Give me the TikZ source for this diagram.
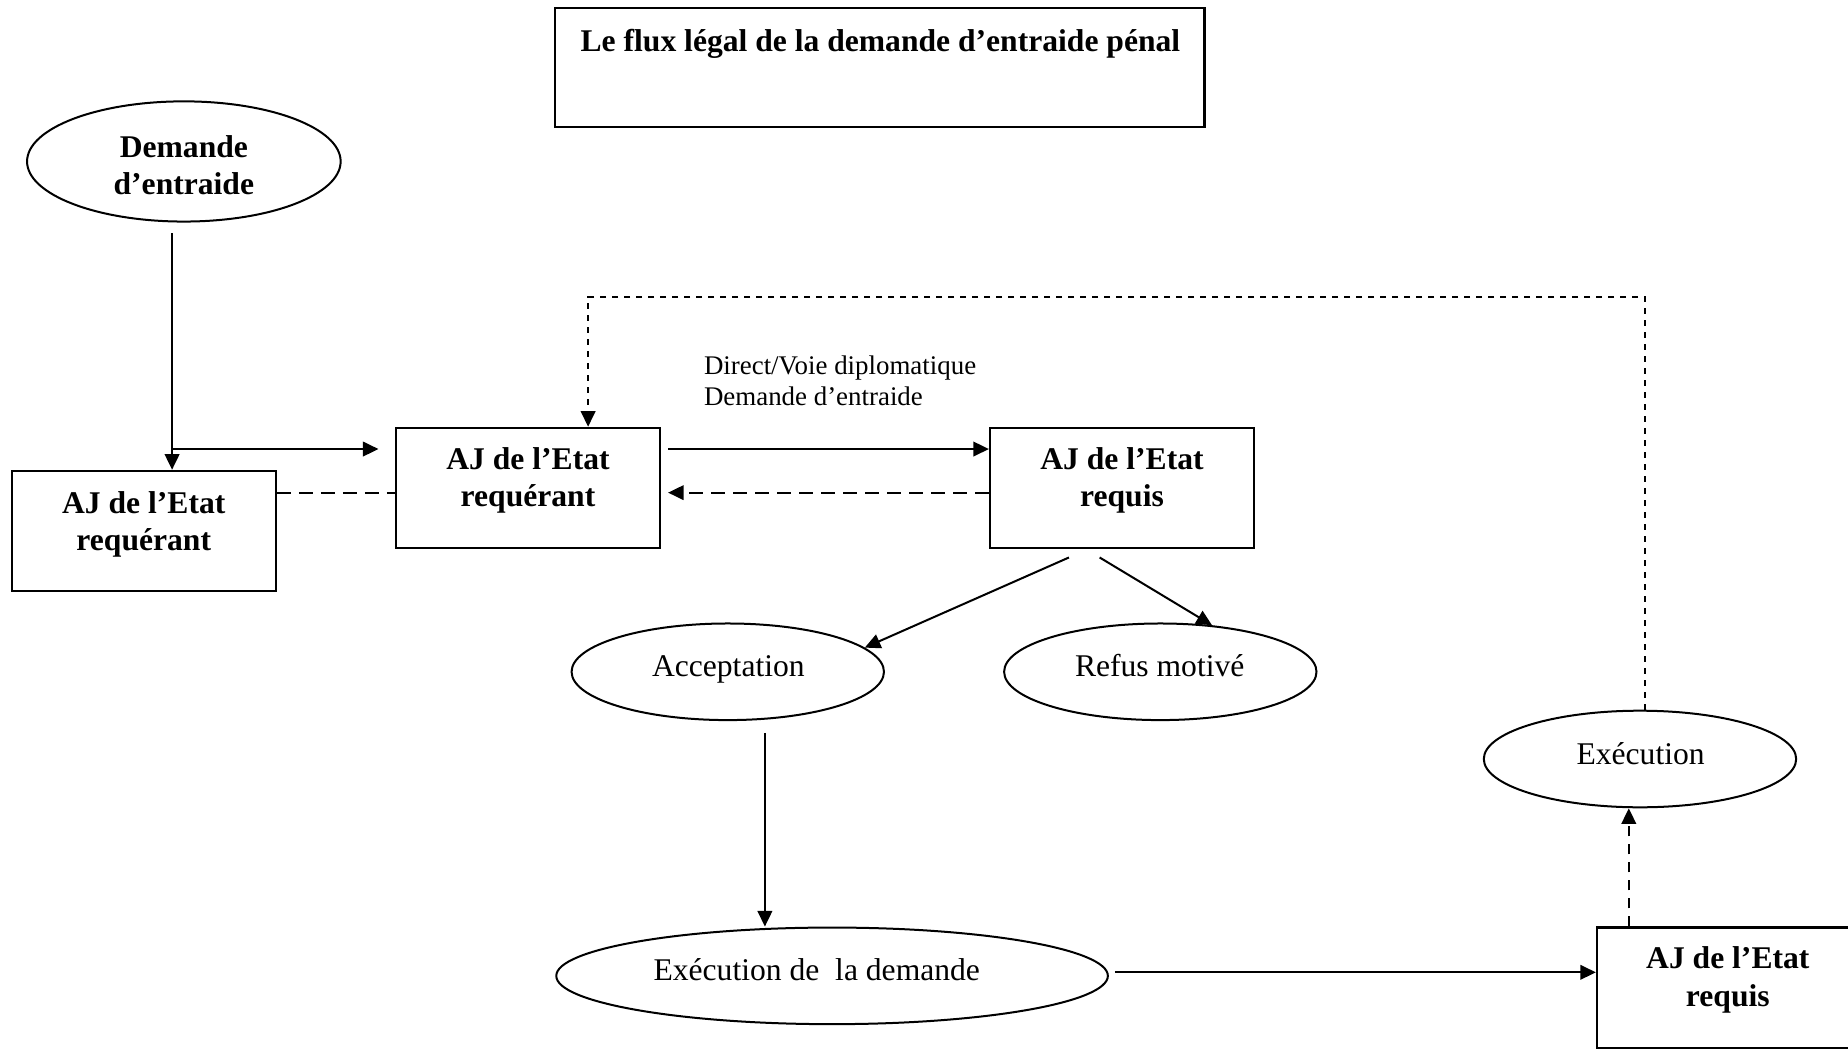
\documentclass[tikz,border=0pt]{standalone}
\usepackage{fontspec}
\setmainfont{Liberation Serif}
\usetikzlibrary{arrows.meta,shapes.geometric}
\begin{document}
\begin{tikzpicture}[x=0.5893pt,y=-0.5893pt,
 box/.style={draw,line width=1.1pt,minimum width=132pt,minimum height=60.1pt,inner sep=0pt},
 ell/.style={draw,ellipse,line width=1pt,inner sep=0pt,minimum width=156.2pt,minimum height=48.3pt},
 btxt/.style={font=\fontsize{15.8}{18.6}\selectfont\bfseries,align=center,inner sep=0pt},
 ntxt/.style={font=\fontsize{15.8}{18.6}\selectfont,inner sep=0pt,text height=11pt,text depth=0pt},
 conn/.style={line width=1pt},
 arr/.style={conn,-{Triangle[length=7.8pt,width=7.3pt]}},
 dsh/.style={dash pattern=on 7pt off 4pt},
 dshb/.style={dash pattern=on 5pt off 4pt},
 dts/.style={dash pattern=on 3pt off 3pt}]
\useasboundingbox (0,0) rectangle (1568,890);
% nodes
\node[box,minimum width=324.7pt,minimum height=59.5pt] (tbox) at (746.5,57.5) {};
\node[btxt] (ttl) at (747,37) {Le flux légal de la demande d’entraide pénal};
\node[ell,minimum width=156.8pt,minimum height=60.1pt] (dem) at (156,137) {};
\node[btxt] (demt) at (156,140) {Demande\\d’entraide};
\node[box] (lbox) at (122,450.5) {};
\node[btxt] (lboxt) at (122,445) {AJ de l’Etat\\requérant};
\node[box] (mbox) at (448,414) {};
\node[btxt] (mboxt) at (448,407.5) {AJ de l’Etat\\requérant};
\node[box] (rbox) at (952,414) {};
\node[btxt] (rboxt) at (952,407.5) {AJ de l’Etat\\requis};
\node[ell] (acc) at (617.5,570) {};
\node[ntxt] (acct) at (618,565) {Acceptation};
\node[ell] (ref) at (984.5,570) {};
\node[ntxt] (reft) at (984,565) {Refus motivé};
\node[ell] (exe) at (1391.5,644) {};
\node[ntxt] (exet) at (1392,639) {Exécution};
\node[ell,minimum width=275.8pt] (exd) at (706,828) {};
\node[ntxt] (exdt) at (693,823) {Exécution de\ \ la demande};
\node[box] (brbox) at (1467,838) {};
\node[btxt] (brboxt) at (1466,831.5) {AJ de l’Etat\\requis};
\node[font=\fontsize{13.45}{15.3}\selectfont,align=left,anchor=north west,inner sep=0pt] (lab) at (597,302) {Direct/Voie diplomatique\\Demande d’entraide};
% helper coordinates
\coordinate (j) at (146,381);
\coordinate (ra) at (0,381);
\coordinate (rb) at (0,418);
\coordinate (rc) at (0,825);
\coordinate (lp) at (499,252);
\coordinate (lq) at (1396,252);
\coordinate (s1) at (907,473);
\coordinate (s2) at (933,473);
\coordinate (va) at (649,0);
\coordinate (vd) at (1382,0);
\coordinate (ve) at (946,0);
% connectors
\draw[arr,shorten <=5.3pt] (dem.south -| j) -- (j |- lbox.north);
\draw[arr,shorten >=8.2pt] (j) -- (j -| mbox.west);
\draw[conn,dsh] (lbox.east |- rb) -- (mbox.west |- rb);
\draw[arr,shorten <=3.5pt] (mbox.east |- ra) -- (rbox.west |- ra);
\draw[arr,dsh,shorten >=3.5pt] (rbox.west |- rb) -- (mbox.east |- rb);
\draw[arr,dts] (exe.north -| lq) -- (lq) -- (lp) -- (lp |- mbox.north);
\draw[arr] (s1) -- (acc.10);
\draw[arr] (s2) -- (ref.42);
\draw[arr,shorten <=5.9pt] (acc.south -| va) -- (exd.north -| va);
\draw[arr] (ve |- rc) -- (brbox.west |- rc);
\draw[arr,dshb] (brbox.north -| vd) -- (exe.south -| vd);
\end{tikzpicture}
\end{document}
